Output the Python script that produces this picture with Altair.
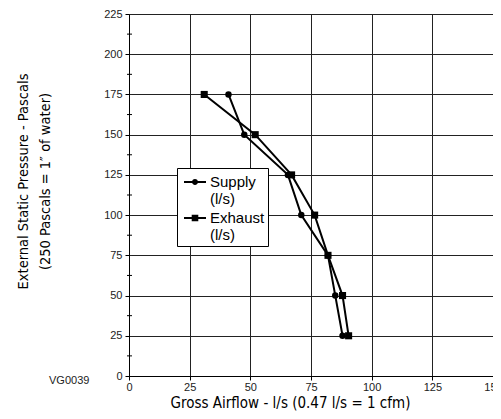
import altair as alt
import pandas as pd

pressure = [25, 50, 75, 100, 125, 150, 175]
supply_flow = [88, 85, 82, 71, 65.5, 47.5, 41]
exhaust_flow = [90.5, 88, 82, 76.5, 67, 52, 31]
series_names = ["Supply (l/s)", "Exhaust (l/s)"]
x_ticks = [0, 25, 50, 75, 100, 125, 150]
y_ticks = [0, 25, 50, 75, 100, 125, 150, 175, 200, 225]
y_minor = [12.5, 37.5, 62.5, 87.5, 112.5, 137.5, 162.5, 187.5, 212.5]
code_label = ["VG0039"]

rows = []
for p, f in zip(pressure, supply_flow):
    rows.append({"series": series_names[0], "flow": f, "pressure": p})
for p, f in zip(pressure, exhaust_flow):
    rows.append({"series": series_names[1], "flow": f, "pressure": p})
df = pd.DataFrame(rows)

FONT = "Liberation Sans"
NARROW = "DejaVu Sans Condensed"

xscale = alt.Scale(domain=[0, 150], nice=False, zero=False)
yscale = alt.Scale(domain=[0, 225], nice=False, zero=False)

xaxis = alt.Axis(
    values=x_ticks, grid=True, gridColor="#222", gridOpacity=1, gridWidth=1,
    domainColor="#000", tickColor="#000", tickSize=4, labelPadding=1,
    labelFont=FONT, labelFontSize=11, labelColor="#222", labelFlush=False,
    title="Gross Airflow - l/s (0.47 l/s = 1 cfm)",
    titleFont=NARROW, titleFontSize=15, titleFontWeight="normal", titleColor="#000",
    titleX=161, titleY=26, titleAnchor="middle", titleAlign="center", titleBaseline="middle",
)
yaxis = alt.Axis(
    values=y_ticks, grid=True, gridColor="#222", gridOpacity=1, gridWidth=1,
    domainColor="#000", tickColor="#000", tickSize=4, labelPadding=3,
    labelFont=FONT, labelFontSize=11, labelColor="#222", labelFlush=False,
    title=["External Static Pressure - Pascals", "(250 Pascals = 1\u2033 of water)"],
    titleFont=NARROW, titleFontSize=14.5, titleFontWeight="normal", titleColor="#000",
    titleLineHeight=22, titleAngle=270, titleX=-99, titleY=167,
    titleAlign="center", titleBaseline="bottom", titleAnchor="middle",
)

base = alt.Chart(df)

lines = base.mark_line(color="black", strokeWidth=2).encode(
    x=alt.X("flow:Q", scale=xscale, axis=xaxis),
    y=alt.Y("pressure:Q", scale=yscale, axis=yaxis),
    detail="series:N",
    order="pressure:Q",
)

points = base.mark_point(filled=True, color="black", opacity=1).encode(
    x="flow:Q",
    y="pressure:Q",
    shape=alt.Shape("series:N", scale=alt.Scale(domain=series_names, range=["circle", "square"]), legend=None),
    size=alt.Size("series:N", scale=alt.Scale(domain=series_names, range=[42, 50]), legend=None),
)

circle_path = ("M-1,-0.09H-0.25V0.09H-1Z"
               "M0.25,-0.09H1V0.09H0.25Z"
               "M-0.27,0A0.27,0.27 0 1,1 0.27,0A0.27,0.27 0 1,1 -0.27,0Z")
square_path = ("M-1,-0.09H-0.3V0.09H-1Z"
               "M0.3,-0.09H1V0.09H0.3Z"
               "M-0.3,-0.3H0.3V0.3H-0.3Z")

legend_layer = base.transform_filter("false").mark_point(
    filled=True, color="black", opacity=1
).encode(
    x="flow:Q",
    y="pressure:Q",
    shape=alt.Shape(
        "series:N",
        scale=alt.Scale(domain=series_names, range=[circle_path, square_path]),
        legend=alt.Legend(
            title=None, orient="none", legendX=48, legendY=154,
            fillColor="white", strokeColor="black", padding=3,
            symbolSize=484, symbolFillColor="black", symbolOpacity=1,
            symbolStrokeWidth=0, symbolOffset=4,
            labelFont=FONT, labelFontSize=15, labelColor="#000", labelOffset=4,
            labelExpr="split(datum.label, ' ')", labelLimit=200,
            rowPadding=0,
        ),
    ),
)

minor_df = pd.DataFrame({"pressure": y_minor})
minor = alt.Chart(minor_df).mark_rule(color="black", strokeWidth=1).encode(
    y=alt.Y("pressure:Q", scale=yscale),
    x=alt.value(-2), x2=alt.value(3),
)

code_df = pd.DataFrame({"t": code_label})
code = alt.Chart(code_df).mark_text(
    font=FONT, fontSize=11, color="#222", align="left", baseline="middle"
).encode(text="t:N", x=alt.value(-80), y=alt.value(367))

chart = alt.layer(lines, points, legend_layer, minor, code).resolve_scale(
    shape="independent", size="independent"
).properties(
    width=364, height=362,
    padding={"left": 121, "top": 6, "right": 0, "bottom": 35},
    autosize=alt.AutoSizeParams(type="none"),
).configure_view(stroke=None)

chart.save("out.html", embed_options={"renderer": "svg", "actions": False})
